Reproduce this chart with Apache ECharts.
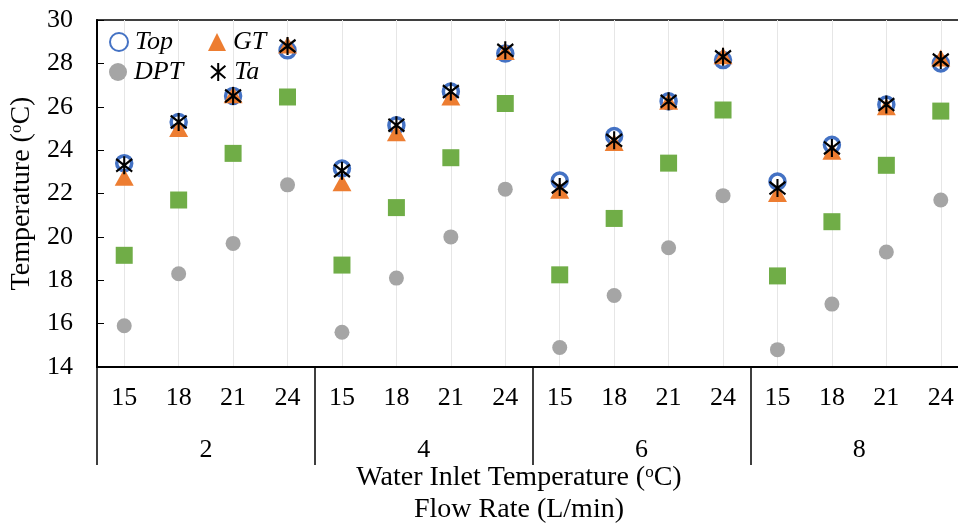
<!DOCTYPE html>
<html>
<head>
<meta charset="utf-8">
<script src="https://cdn.jsdelivr.net/npm/echarts@6/dist/echarts.min.js"></script>
<style>
  html, body { margin: 0; padding: 0; background: #fff; }
  #chart { width: 958px; height: 527px; }
</style>
</head>
<body>
<div id="chart"></div>
<script>
// water inlet temperature (inner level) and flow rate (outer level)
const inletTemps = ['15', '18', '21', '24', '15', '18', '21', '24', '15', '18', '21', '24', '15', '18', '21', '24']
const flowRates = ['2', '4', '6', '8']
const yTicks = [14, 16, 18, 20, 22, 24, 26, 28, 30]

const topValues = [23.4, 25.3, 26.5, 28.6, 23.15, 25.15, 26.7, 28.45, 22.6, 24.65, 26.25, 28.15, 22.55, 24.25, 26.1, 28.0]
const gtValues = [22.75, 25.0, 26.55, 28.85, 22.5, 24.8, 26.45, 28.55, 22.15, 24.35, 26.25, 28.35, 22.0, 23.95, 26.0, 28.25]
const dptValues = [15.9, 18.3, 19.7, 22.4, 15.6, 18.1, 20.0, 22.2, 14.9, 17.3, 19.5, 21.9, 14.8, 16.9, 19.3, 21.7]
const twValues = [19.15, 21.7, 23.85, 26.45, 18.7, 21.35, 23.65, 26.15, 18.25, 20.85, 23.4, 25.85, 18.2, 20.7, 23.3, 25.8]
const taValues = [23.3, 25.3, 26.5, 28.8, 23.05, 25.15, 26.7, 28.6, 22.3, 24.45, 26.25, 28.3, 22.25, 24.1, 26.1, 28.15]

const font = 'Liberation Serif'
const asterisk = 'path://M10,0 L10,20 M2,3 L18,17 M2,17 L18,3'

const chart = echarts.init(document.getElementById('chart'))

// one legend per item so the two columns line up like the original
const legendItem = (name, left, top) => ({
  data: [name],
  left,
  top,
  padding: 0,
  itemWidth: 18,
  itemHeight: 18,
  itemGap: 0,
  textStyle: {fontFamily: font, fontSize: 26, fontStyle: 'italic', color: '#000', padding: [0, 0, 0, 2]}
})

const supRich = {
  a: {fontFamily: font, fontSize: 28, color: '#000'},
  s: {fontFamily: font, fontSize: 17, color: '#000', verticalAlign: 'top'}
}

chart.setOption({
  animation: false,
  textStyle: {fontFamily: font},
  grid: {
    left: 97, top: 20, width: 871, bottom: 160,
    outerBoundsMode: 'none',
    show: true, borderColor: '#000', borderWidth: 1.5
  },
  legend: [
    legendItem('Top', 109, 29),
    legendItem('GT', 208, 29),
    legendItem('DPT', 109, 59),
    legendItem('Ta', 210, 59)
  ],
  xAxis: [
    {
      type: 'category',
      data: inletTemps,
      axisLine: {lineStyle: {color: '#000', width: 2}},
      axisTick: {show: false},
      axisLabel: {color: '#000', fontSize: 26, margin: 18, interval: 0},
      splitLine: {show: true, alignWithLabel: true, lineStyle: {color: '#e6e6e6', width: 1}}
    },
    {
      type: 'category',
      data: flowRates,
      position: 'bottom',
      axisLine: {show: false},
      axisTick: {show: true, length: 98, lineStyle: {color: '#000', width: 1.5}},
      axisLabel: {color: '#000', fontSize: 26, margin: 70}
    }
  ],
  yAxis: {
    type: 'value',
    min: 14,
    max: 30,
    interval: 2,
    name: '{a|Temperature (}{s|o}{a|C)}',
    nameLocation: 'middle',
    nameGap: 59,
    nameTextStyle: {rich: supRich},
    axisLine: {show: true, lineStyle: {color: '#000', width: 2}},
    axisTick: {show: true, inside: true, length: 7, lineStyle: {color: '#000'}},
    axisLabel: {color: '#000', fontSize: 26, margin: 24,
      formatter: (v) => yTicks.includes(v) ? String(v) : ''},
    splitLine: {show: false}
  },
  graphic: [
    {
      type: 'text', x: 519, y: 478,
      style: {
        text: '{a|Water Inlet Temperature (}{s|o}{a|C)}',
        align: 'center', verticalAlign: 'middle',
        rich: {
          a: {fontFamily: font, fontSize: 28, fill: '#000'},
          s: {fontFamily: font, fontSize: 17, fill: '#000', verticalAlign: 'top'}
        }
      }
    },
    {
      type: 'text', x: 519, y: 510,
      style: {text: 'Flow Rate (L/min)', align: 'center', verticalAlign: 'middle',
        fontFamily: font, fontSize: 28, fill: '#000'}
    }
  ],
  series: [
    {
      name: 'Top', type: 'scatter', data: topValues,
      symbol: 'circle', symbolSize: 15,
      itemStyle: {color: '#fff', borderColor: '#4472C4', borderWidth: 3.5, opacity: 1}
    },
    {
      name: 'GT', type: 'scatter', data: gtValues,
      symbol: 'triangle', symbolSize: [19, 17],
      itemStyle: {color: '#ED7D31', opacity: 1}
    },
    {
      name: 'DPT', type: 'scatter', data: dptValues,
      symbol: 'circle', symbolSize: 15,
      itemStyle: {color: '#A5A5A5', opacity: 1}
    },
    {
      name: 'Tw', type: 'scatter', data: twValues,
      symbol: 'rect', symbolSize: 17,
      itemStyle: {color: '#70AD47', opacity: 1}
    },
    {
      name: 'Ta', type: 'scatter', data: taValues,
      symbol: asterisk, symbolSize: [16, 18],
      itemStyle: {color: '#000', borderColor: '#000', borderWidth: 2.2, opacity: 1}
    }
  ]
})
</script>
</body>
</html>
